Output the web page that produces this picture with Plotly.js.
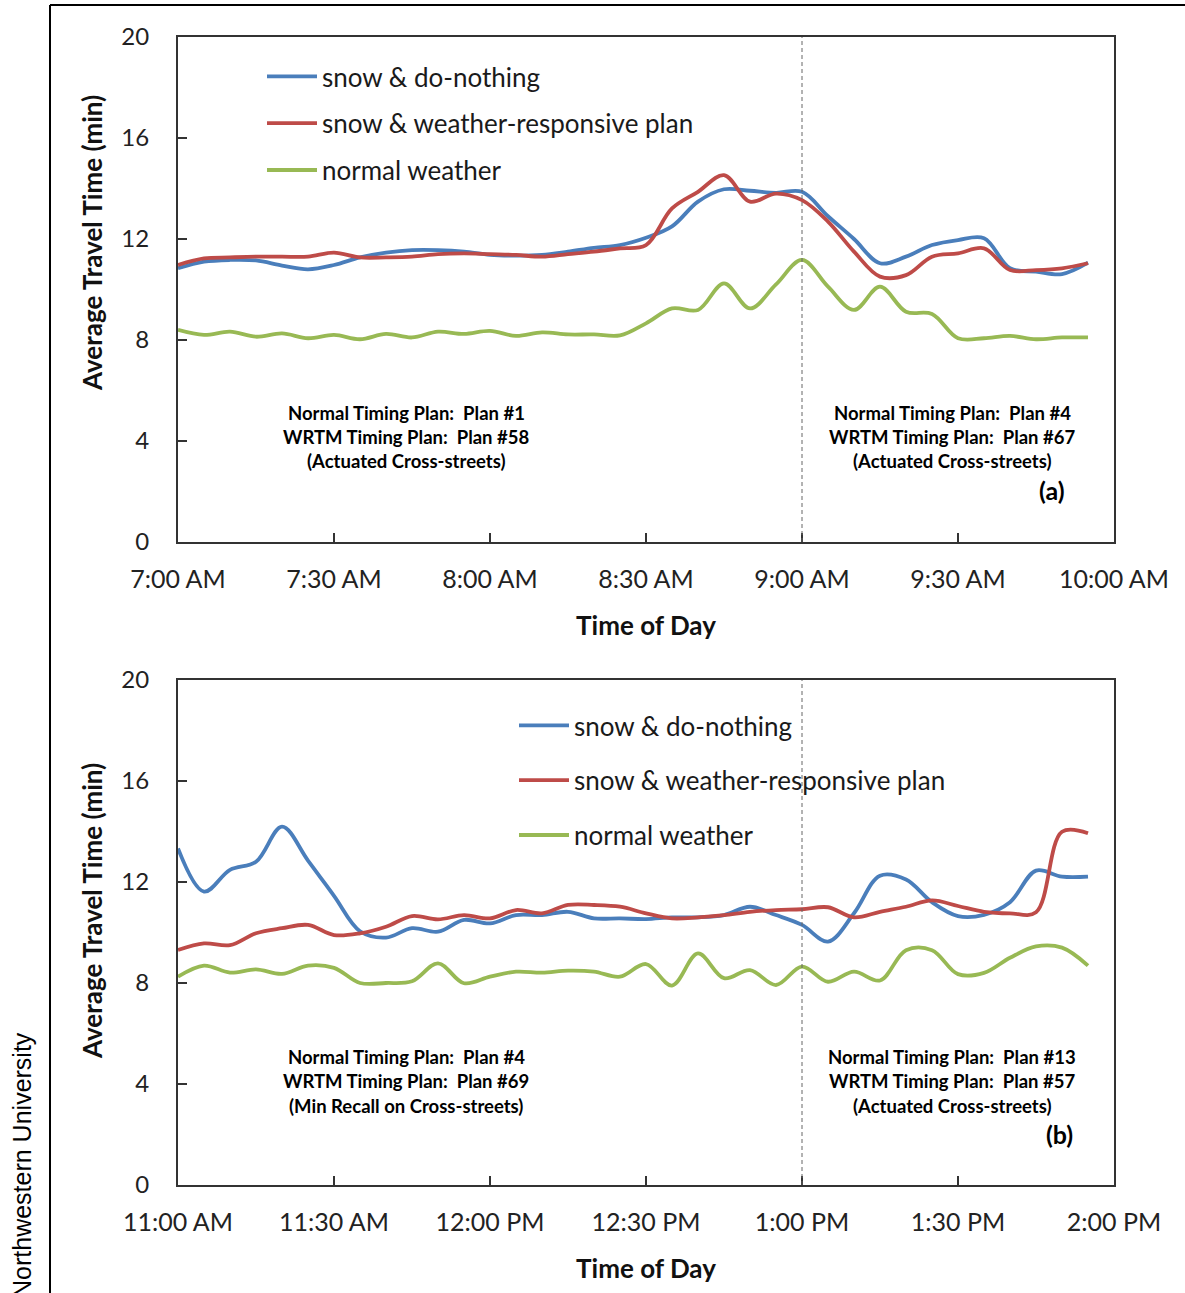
<!DOCTYPE html>
<html>
<head>
<meta charset="utf-8">
<script src="https://cdn.plot.ly/plotly-3.0.1.min.js"></script>
<style>
html,body{margin:0;padding:0;background:#fff;}
#chart{width:1185px;height:1293px;}
</style>
</head>
<body>
<div id="chart"></div>
<script>
// ---------- data ----------
const timesA = ["07:00","07:05","07:10","07:15","07:20","07:25","07:30","07:35","07:40","07:45","07:50","07:55",
                "08:00","08:05","08:10","08:15","08:20","08:25","08:30","08:35","08:40","08:45","08:50","08:55",
                "09:00","09:05","09:10","09:15","09:20","09:25","09:30","09:35","09:40","09:45","09:50","09:55"];
const snowDoNothingA = [10.84,11.10,11.17,11.15,10.95,10.80,10.97,11.27,11.46,11.56,11.56,11.50,
                        11.37,11.34,11.37,11.50,11.65,11.76,12.05,12.50,13.48,13.97,13.91,13.83,
                        13.87,12.90,12.00,11.04,11.30,11.76,11.96,12.03,10.84,10.71,10.61,11.06];
const snowWeatherPlanA = [10.97,11.23,11.27,11.30,11.30,11.30,11.46,11.27,11.27,11.30,11.40,11.43,
                          11.40,11.37,11.30,11.40,11.50,11.63,11.76,13.21,13.87,14.53,13.48,13.80,
                          13.54,12.69,11.50,10.51,10.57,11.30,11.43,11.63,10.77,10.77,10.84,11.04];
const normalWeatherA = [8.40,8.20,8.33,8.13,8.26,8.07,8.20,8.03,8.24,8.10,8.33,8.24,
                        8.36,8.16,8.30,8.22,8.22,8.18,8.66,9.25,9.19,10.24,9.25,10.20,
                        11.17,10.11,9.19,10.11,9.12,9.03,8.07,8.07,8.16,8.03,8.10,8.10];

const timesB = ["11:00","11:05","11:10","11:15","11:20","11:25","11:30","11:35","11:40","11:45","11:50","11:55",
                "12:00","12:05","12:10","12:15","12:20","12:25","12:30","12:35","12:40","12:45","12:50","12:55",
                "13:00","13:05","13:10","13:15","13:20","13:25","13:30","13:35","13:40","13:45","13:50","13:55"];
const snowDoNothingB = [13.33,11.62,12.48,12.80,14.19,12.85,11.45,10.05,9.80,10.17,10.03,10.50,
                        10.36,10.69,10.69,10.82,10.56,10.56,10.53,10.60,10.60,10.69,11.02,10.69,
                        10.30,9.64,10.76,12.25,12.10,11.20,10.65,10.70,11.20,12.45,12.21,12.21];
const snowWeatherPlanB = [9.31,9.57,9.50,9.97,10.17,10.30,9.90,9.97,10.23,10.65,10.52,10.69,
                          10.56,10.89,10.76,11.09,11.09,11.02,10.76,10.56,10.60,10.69,10.82,10.89,
                          10.92,11.00,10.60,10.82,11.02,11.27,11.05,10.82,10.76,10.80,13.99,13.93];
const normalWeatherB = [8.25,8.69,8.41,8.54,8.36,8.69,8.60,8.00,8.00,8.07,8.78,7.99,
                        8.25,8.45,8.41,8.49,8.45,8.25,8.75,7.90,9.17,8.19,8.51,7.92,
                        8.65,8.05,8.45,8.10,9.30,9.30,8.35,8.40,9.00,9.45,9.40,8.69];

const seriesNames = ["snow &amp; do-nothing", "snow &amp; weather-responsive plan", "normal weather"];
const planChangeA = "09:00";
const planChangeB = "13:00";
const rangeA = ["07:00","10:00"];
const rangeB = ["11:00","14:00"];
const plansA = [["Normal Timing Plan:  Plan #1","WRTM Timing Plan:  Plan #58","(Actuated Cross-streets)"],
                ["Normal Timing Plan:  Plan #4","WRTM Timing Plan:  Plan #67","(Actuated Cross-streets)"]];
const plansB = [["Normal Timing Plan:  Plan #4","WRTM Timing Plan:  Plan #69","(Min Recall on Cross-streets)"],
                ["Normal Timing Plan:  Plan #13","WRTM Timing Plan:  Plan #57","(Actuated Cross-streets)"]];
const yTitle = "Average Travel Time (min)";
const xTitle = "Time of Day";

// ---------- helpers ----------
const W = 1185, H = 1293;
const px = x => x / W;
const py = y => 1 - y / H;
const day = t => "2000-01-01 " + t;
const colors = ["#4A7EBB", "#BE4B48", "#98B954"];
const FONT = "Lato, 'Open Sans', sans-serif";

function mkTraces(times, arrs, xa, ya, leg) {
  return arrs.map((v, i) => ({
    type: "scatter", mode: "lines",
    x: times.map(day), y: v,
    xaxis: xa, yaxis: ya,
    name: seriesNames[i],
    legend: leg, legendgroup: leg + i,
    line: {color: colors[i], width: 3.8, shape: "spline", smoothing: 1},
    hoverinfo: "skip"
  }));
}

const data = [
  ...mkTraces(timesA, [snowDoNothingA, snowWeatherPlanA, normalWeatherA], "x", "y", "legend"),
  ...mkTraces(timesB, [snowDoNothingB, snowWeatherPlanB, normalWeatherB], "x2", "y2", "legend2")
];

function xAxis(range, anchor, domain) {
  return {
    domain: domain, anchor: anchor, type: "date",
    range: range.map(day), tick0: day(range[0]), dtick: 1800000,
    tickformat: "%-I:%M %p",
    ticks: "inside", ticklen: 9, tickwidth: 1.5, tickcolor: "#333",
    showline: true, linecolor: "#333", linewidth: 2, mirror: true,
    showgrid: false, zeroline: false,
    ticklabelstandoff: 14,
    tickfont: {size: 25, color: "#222", family: FONT},
    title: {text: "<b>" + xTitle + "</b>", font: {size: 26, color: "#111", family: FONT}, standoff: 25}
  };
}
function yAxis(anchor, domain) {
  return {
    domain: domain, anchor: anchor,
    range: [0, 20], tick0: 0, dtick: 4,
    ticks: "inside", ticklen: 9, tickwidth: 1.5, tickcolor: "#333",
    showline: true, linecolor: "#333", linewidth: 2, mirror: true,
    showgrid: false, zeroline: false,
    ticklabelstandoff: 22,
    tickfont: {size: 24, color: "#222", family: FONT}
  };
}

const annotations = [];
function planBlock(lines, cx, ys) {
  lines.forEach((t, i) => annotations.push({
    xref: "paper", yref: "paper", x: px(cx), y: py(ys[i]),
    xanchor: "center", yanchor: "middle", showarrow: false,
    text: "<b>" + t.replace(/  /g, "\u00a0 ") + "</b>",
    font: {size: 18.5, color: "#000", family: FONT}
  }));
}
planBlock(plansA[0], 406, [413, 437, 461]);
planBlock(plansA[1], 952, [413, 437, 461]);
planBlock(plansB[0], 406, [1057, 1081, 1106]);
planBlock(plansB[1], 952, [1057, 1081, 1106]);
[["(a)", 1052, 490], ["(b)", 1059, 1134]].forEach(([t, x, y]) => annotations.push({
  xref:"paper", yref:"paper", x:px(x), y:py(y), xanchor:"center", yanchor:"middle", showarrow:false,
  text:"<b>" + t + "</b>", font:{size:25, color:"#000", family:FONT}}));
[243, 911].forEach(y => annotations.push({
  xref:"paper", yref:"paper", x:px(92), y:py(y), xanchor:"center", yanchor:"middle", showarrow:false,
  textangle:-90, text:"<b>" + yTitle + "</b>", font:{size:26, color:"#111", family:FONT}}));
annotations.push({xref:"paper", yref:"paper", x:px(22), y:py(1165), showarrow:false,
  textangle:-90, xanchor:"center", yanchor:"middle",
  text:"Northwestern University", font:{size:25, color:"#000", family:"'Liberation Sans', Arial, sans-serif"}});

const shapes = [
  {type:"line", xref:"x", yref:"y domain", x0:day(planChangeA), x1:day(planChangeA), y0:0, y1:1,
   line:{color:"#666", width:1, dash:"4px,3px"}},
  {type:"line", xref:"x2", yref:"y2 domain", x0:day(planChangeB), x1:day(planChangeB), y0:0, y1:1,
   line:{color:"#666", width:1, dash:"4px,3px"}},
  {type:"line", xref:"paper", yref:"paper", x0:px(50), x1:px(50), y0:py(5), y1:0,
   line:{color:"#000", width:2}},
  {type:"line", xref:"paper", yref:"paper", x0:px(50), x1:1, y0:py(5), y1:py(5),
   line:{color:"#000", width:2}}
];

const legendCommon = {
  xanchor: "left", yanchor: "top", bgcolor: "rgba(0,0,0,0)", borderwidth: 0,
  font: {size: 26, color: "#1a1a1a", family: FONT},
  traceorder: "grouped", itemwidth: 50
};

const layout = {
  width: W, height: H,
  margin: {l: 0, r: 0, t: 0, b: 0},
  paper_bgcolor: "#fff", plot_bgcolor: "#fff",
  font: {family: FONT, color: "#222"},
  showlegend: true,
  xaxis: xAxis(rangeA, "y", [px(178), px(1114)]),
  yaxis: yAxis("x", [py(542), py(37)]),
  xaxis2: xAxis(rangeB, "y2", [px(178), px(1114)]),
  yaxis2: yAxis("x2", [py(1185), py(680)]),
  legend: Object.assign({}, legendCommon, {x: px(262), y: py(53), tracegroupgap: 10}),
  legend2: Object.assign({}, legendCommon, {x: px(514), y: py(702), tracegroupgap: 18}),
  annotations: annotations,
  shapes: shapes
};

Plotly.newPlot("chart", data, layout, {displayModeBar: false, staticPlot: true});
</script>
</body>
</html>
